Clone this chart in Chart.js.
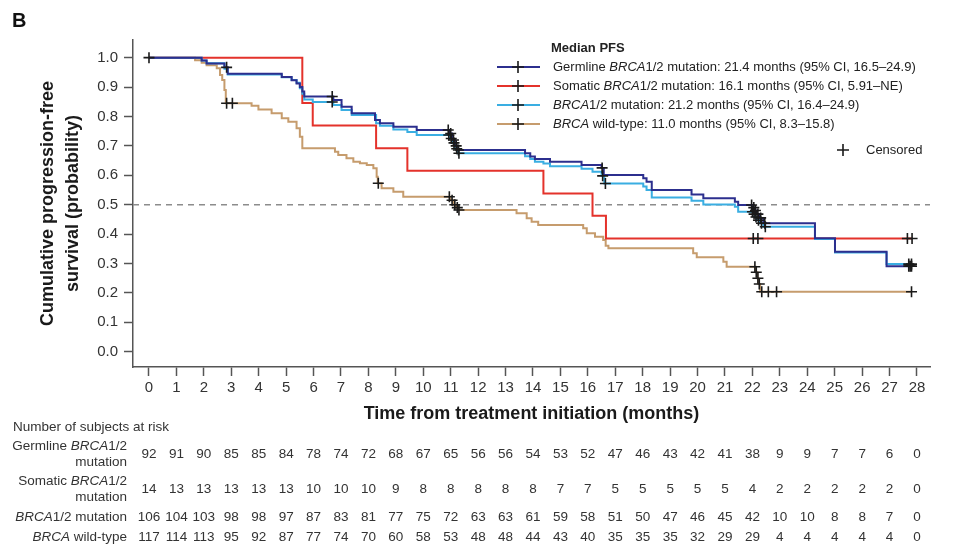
<!DOCTYPE html>
<html>
<head>
<meta charset="utf-8">
<title>PFS by BRCA status</title>
<script src="https://cdn.jsdelivr.net/npm/chart.js@4.4.1/dist/chart.umd.min.js"></script>
<style>
  html, body { margin: 0; padding: 0; background: #fff; }
  #wrap { width: 963px; height: 556px; }
</style>
</head>
<body>
<div id="wrap"><canvas id="kmChart" width="963" height="556"></canvas></div>
<script>
// Axis ticks
const xTicks = [0, 1, 2, 3, 4, 5, 6, 7, 8, 9, 10, 11, 12, 13, 14, 15, 16, 17, 18, 19, 20, 21, 22, 23, 24, 25, 26, 27, 28];
const yTicks = [0, 0.1, 0.2, 0.3, 0.4, 0.5, 0.6, 0.7, 0.8, 0.9, 1.0];
const medianLevel = 0.5;

// Kaplan-Meier steps (months, survival probability)
const germlineTime = [0, 1.92, 2.1, 2.75, 2.87, 4.84, 5.2, 5.38, 5.5, 5.59, 5.66, 6.72, 7.02, 7.39, 8.24, 8.42, 8.91, 9.76, 10.95, 11.05, 11.15, 11.25, 13.71, 13.9, 14.07, 14.62, 15.77, 16.5, 16.58, 18.02, 18.14, 18.33, 19.78, 20.21, 21.36, 21.48, 22.02, 22.08, 22.15, 22.25, 22.4, 24.28, 25.01, 26.89, 27.8];
const germlineSurv = [1.0, 0.99, 0.98, 0.967, 0.945, 0.934, 0.923, 0.912, 0.90, 0.885, 0.868, 0.856, 0.833, 0.811, 0.788, 0.777, 0.765, 0.754, 0.742, 0.72, 0.70, 0.686, 0.675, 0.664, 0.655, 0.646, 0.635, 0.625, 0.601, 0.59, 0.578, 0.55, 0.535, 0.522, 0.51, 0.499, 0.49, 0.48, 0.468, 0.455, 0.437, 0.386, 0.34, 0.291, 0.291];
const germlineCensor = [0, 2.83, 6.68, 10.91, 11.0, 11.1, 11.2, 11.28, 16.52, 21.97, 22.05, 22.11, 22.2, 22.3, 22.45, 27.7, 27.75, 27.8];

const somaticTime = [0, 5.59, 5.97, 8.28, 9.42, 14.38, 16.17, 16.66, 27.82];
const somaticSurv = [1.0, 0.846, 0.769, 0.692, 0.615, 0.538, 0.462, 0.385, 0.385];
const somaticCensor = [22.03, 22.2, 27.65, 27.82];

const brcaTime = [0, 1.92, 2.1, 2.75, 2.87, 4.84, 5.2, 5.38, 5.5, 5.59, 5.66, 5.97, 6.72, 7.02, 7.39, 8.28, 8.42, 8.91, 9.42, 9.76, 10.95, 11.05, 11.15, 11.25, 13.71, 13.9, 14.07, 14.38, 14.62, 15.77, 16.17, 16.5, 16.6, 18.02, 18.14, 18.33, 19.78, 20.21, 21.36, 21.48, 22.02, 22.08, 22.15, 22.25, 22.4, 24.28, 25.01, 26.89, 27.8];
const brcaSurv = [1.0, 0.99, 0.981, 0.962, 0.943, 0.933, 0.924, 0.915, 0.896, 0.877, 0.858, 0.849, 0.839, 0.822, 0.805, 0.777, 0.768, 0.756, 0.747, 0.737, 0.725, 0.71, 0.69, 0.675, 0.665, 0.655, 0.646, 0.64, 0.631, 0.622, 0.612, 0.598, 0.572, 0.562, 0.55, 0.524, 0.513, 0.501, 0.493, 0.476, 0.468, 0.458, 0.447, 0.437, 0.425, 0.383, 0.337, 0.298, 0.298];
const brcaCensor = [6.68, 10.93, 11.02, 11.12, 11.22, 11.3, 16.54, 16.64, 22.0, 22.06, 22.13, 22.22, 22.33, 22.47, 27.7, 27.8];

const wildTime = [0, 1.68, 1.92, 2.1, 2.47, 2.59, 2.67, 2.75, 2.8, 3.74, 3.99, 4.47, 4.84, 5.08, 5.38, 5.5, 5.59, 6.78, 6.9, 7.2, 7.45, 7.69, 7.94, 8.18, 8.3, 8.34, 8.48, 8.91, 9.27, 11.0, 11.1, 11.2, 11.28, 13.4, 13.77, 13.95, 14.19, 15.83, 15.96, 16.26, 16.56, 16.65, 16.75, 19.84, 19.97, 20.94, 21.06, 22.12, 22.18, 22.22, 22.28, 27.8];
const wildSurv = [1.0, 0.991, 0.983, 0.974, 0.964, 0.941, 0.924, 0.89, 0.845, 0.836, 0.824, 0.811, 0.794, 0.782, 0.76, 0.731, 0.692, 0.68, 0.669, 0.658, 0.646, 0.641, 0.635, 0.624, 0.595, 0.573, 0.556, 0.544, 0.527, 0.515, 0.50, 0.49, 0.482, 0.471, 0.454, 0.442, 0.431, 0.42, 0.403, 0.391, 0.38, 0.36, 0.352, 0.335, 0.321, 0.306, 0.289, 0.27, 0.25, 0.23, 0.204, 0.204];
const wildCensor = [2.83, 3.04, 8.36, 10.95, 11.05, 11.15, 11.24, 11.3, 22.09, 22.14, 22.2, 22.25, 22.34, 22.58, 22.88, 27.8];

// Number of subjects at risk at each month tick
const riskGermline = [92, 91, 90, 85, 85, 84, 78, 74, 72, 68, 67, 65, 56, 56, 54, 53, 52, 47, 46, 43, 42, 41, 38, 9, 9, 7, 7, 6, 0];
const riskSomatic = [14, 13, 13, 13, 13, 13, 10, 10, 10, 9, 8, 8, 8, 8, 8, 7, 7, 5, 5, 5, 5, 5, 4, 2, 2, 2, 2, 2, 0];
const riskBrca = [106, 104, 103, 98, 98, 97, 87, 83, 81, 77, 75, 72, 63, 63, 61, 59, 58, 51, 50, 47, 46, 45, 42, 10, 10, 8, 8, 7, 0];
const riskWild = [117, 114, 113, 95, 92, 87, 77, 74, 70, 60, 58, 53, 48, 48, 44, 43, 40, 35, 35, 35, 32, 29, 29, 4, 4, 4, 4, 4, 0];

const FONT = "'Liberation Sans', Arial, Helvetica, sans-serif";
Chart.defaults.font.family = FONT;

const colors = {
    germline: "#2c2f8e",
    somatic: "#e4322b",
    brca: "#3aaee2",
    wild: "#c69c6d",
};

function survAt(times, surv, t) {
    let v = surv[0];
    for (let i = 0; i < times.length; i++) {
        if (times[i] <= t) v = surv[i];
    }
    return v;
}

function curve(times, surv, color) {
    return {
        data: times.map((t, i) => ({ x: t, y: surv[i] })),
        borderColor: color,
        borderWidth: 2,
        stepped: true,
        pointRadius: 0,
        fill: false,
    };
}

function censorMarks(marks, times, surv) {
    return {
        data: marks.map((t) => ({ x: t, y: survAt(times, surv, t) })),
        showLine: false,
        pointStyle: "cross",
        pointRadius: 5.5,
        pointBorderWidth: 1.6,
        pointBorderColor: "#1a1a1a",
        pointBackgroundColor: "#1a1a1a",
    };
}

// text with italic runs: parts = [[text, isItalic], ...]
function drawRich(ctx, parts, x, y, size, align, color) {
    const fontFor = (it) => (it ? "italic " : "") + size + "px " + FONT;
    let total = 0;
    parts.forEach(([t, it]) => {
        ctx.font = fontFor(it);
        total += ctx.measureText(t).width;
    });
    let cx = align === "right" ? x - total : x;
    ctx.fillStyle = color;
    ctx.textAlign = "left";
    ctx.textBaseline = "middle";
    parts.forEach(([t, it]) => {
        ctx.font = fontFor(it);
        ctx.fillText(t, cx, y);
        cx += ctx.measureText(t).width;
    });
}

function drawCross(ctx, x, y, r) {
    ctx.beginPath();
    ctx.moveTo(x - r, y);
    ctx.lineTo(x + r, y);
    ctx.moveTo(x, y - r);
    ctx.lineTo(x, y + r);
    ctx.strokeStyle = "#1a1a1a";
    ctx.lineWidth = 1.6;
    ctx.stroke();
}

const legendRows = [
    { color: colors.germline, parts: [["Germline ", 0], ["BRCA", 1], ["1/2 mutation: 21.4 months (95% CI, 16.5\u201324.9)", 0]] },
    { color: colors.somatic, parts: [["Somatic ", 0], ["BRCA", 1], ["1/2 mutation: 16.1 months (95% CI, 5.91\u2013NE)", 0]] },
    { color: colors.brca, parts: [["BRCA", 1], ["1/2 mutation: 21.2 months (95% CI, 16.4\u201324.9)", 0]] },
    { color: colors.wild, parts: [["BRCA", 1], [" wild-type: 11.0 months (95% CI, 8.3\u201315.8)", 0]] },
];

const riskRows = [
    { label: [[["Germline ", 0], ["BRCA", 1], ["1/2", 0]], [["mutation", 0]]], labelY: [446, 462], y: 454, values: riskGermline },
    { label: [[["Somatic ", 0], ["BRCA", 1], ["1/2", 0]], [["mutation", 0]]], labelY: [481, 497], y: 489, values: riskSomatic },
    { label: [[["BRCA", 1], ["1/2 mutation", 0]]], labelY: [517], y: 517, values: riskBrca },
    { label: [[["BRCA", 1], [" wild-type", 0]]], labelY: [537], y: 537, values: riskWild },
];

const decor = {
    id: "decor",
    beforeDatasetsDraw(chart) {
        const { ctx, chartArea, scales } = chart;
        const y = scales.y.getPixelForValue(medianLevel);
        ctx.save();
        ctx.setLineDash([6, 5]);
        ctx.strokeStyle = "#8c8c8c";
        ctx.lineWidth = 1.5;
        ctx.beginPath();
        ctx.moveTo(chartArea.left, y);
        ctx.lineTo(chartArea.right, y);
        ctx.stroke();
        ctx.restore();
    },
    afterDraw(chart) {
        const { ctx, scales } = chart;
        ctx.save();

        // panel letter
        ctx.font = "bold 20px " + FONT;
        ctx.fillStyle = "#111";
        ctx.textAlign = "left";
        ctx.textBaseline = "middle";
        ctx.fillText("B", 12, 21);

        // legend
        ctx.font = "bold 13px " + FONT;
        ctx.fillStyle = "#222";
        ctx.fillText("Median PFS", 551, 48);
        legendRows.forEach((row, i) => {
            const y = 67 + i * 19;
            ctx.beginPath();
            ctx.moveTo(497, y);
            ctx.lineTo(540, y);
            ctx.strokeStyle = row.color;
            ctx.lineWidth = 2;
            ctx.stroke();
            drawCross(ctx, 518, y, 6);
            drawRich(ctx, row.parts, 553, y, 13, "left", "#222");
        });
        drawCross(ctx, 843, 150, 6);
        drawRich(ctx, [["Censored", 0]], 866, 150, 13, "left", "#222");

        // at-risk table
        drawRich(ctx, [["Number of subjects at risk", 0]], 13, 427, 13.5, "left", "#333");
        riskRows.forEach((row) => {
            row.label.forEach((line, k) => drawRich(ctx, line, 127, row.labelY[k], 13.5, "right", "#333"));
            ctx.font = "13.5px " + FONT;
            ctx.fillStyle = "#333";
            ctx.textAlign = "center";
            ctx.textBaseline = "middle";
            row.values.forEach((v, i) => {
                ctx.fillText(String(v), scales.x.getPixelForValue(xTicks[i]), row.y);
            });
        });
        ctx.restore();
    },
};

const axisGrid = { drawOnChartArea: false, tickLength: 9, tickColor: "#555", tickWidth: 1.5 };
const axisBorder = { display: true, color: "#555", width: 1.5 };

new Chart(document.getElementById("kmChart").getContext("2d"), {
    type: "line",
    data: {
        datasets: [
            censorMarks(germlineCensor, germlineTime, germlineSurv),
            censorMarks(brcaCensor, brcaTime, brcaSurv),
            censorMarks(somaticCensor, somaticTime, somaticSurv),
            censorMarks(wildCensor, wildTime, wildSurv),
            curve(germlineTime, germlineSurv, colors.germline),
            curve(brcaTime, brcaSurv, colors.brca),
            curve(somaticTime, somaticSurv, colors.somatic),
            curve(wildTime, wildSurv, colors.wild),
        ],
    },
    options: {
        responsive: false,
        animation: false,
        layout: { padding: { top: 40, right: 33, bottom: 0, left: 0 } },
        plugins: {
            legend: { display: false },
            tooltip: { enabled: false },
        },
        scales: {
            x: {
                type: "linear",
                min: -0.583,
                max: 28.474,
                afterFit: (s) => { s.height = 189; },
                afterBuildTicks: (s) => { s.ticks = xTicks.map((v) => ({ value: v })); },
                grid: axisGrid,
                border: axisBorder,
                ticks: { color: "#333", font: { size: 15 }, padding: 3, maxRotation: 0, autoSkip: false },
                title: {
                    display: true,
                    text: "Time from treatment initiation (months)",
                    color: "#1a1a1a",
                    font: { size: 18, weight: "bold" },
                    padding: { top: 0, bottom: 131 },
                },
            },
            y: {
                type: "linear",
                min: -0.052,
                max: 1.06,
                afterFit: (s) => { s.width = 133; },
                afterBuildTicks: (s) => { s.ticks = yTicks.map((v) => ({ value: v })); },
                grid: axisGrid,
                border: axisBorder,
                ticks: { color: "#333", font: { size: 15 }, padding: 6, callback: (v) => v.toFixed(1) },
                title: {
                    display: true,
                    text: ["Cumulative progression-free", "survival (probability)"],
                    color: "#1a1a1a",
                    font: { size: 18, weight: "bold", lineHeight: 1.39 },
                    padding: { top: 35.5, bottom: 0 },
                },
            },
        },
    },
    plugins: [decor],
});
</script>
</body>
</html>
